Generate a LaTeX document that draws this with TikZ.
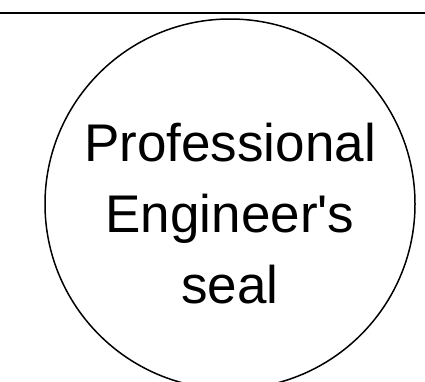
\documentclass[tikz,border=0pt]{standalone}
\usepackage{fontspec}
\newfontfamily\sealfont{Liberation Sans}
\usetikzlibrary{positioning}

\begin{document}
\begin{tikzpicture}[
x=1pt, y=-1pt,
rule/.style={draw, line width=2pt},
sealring/.style={draw, circle, line width=1.5pt, minimum size=370pt, inner sep=0pt},
sealtext/.style={align=center, font=\sealfont\fontsize{53}{71}\selectfont}
]

\useasboundingbox (0,0) rectangle (425,381);
\clip (0,0) rectangle (425,381);

\coordinate (rl) at (0,13);
\coordinate (rr) at (425,13);
\draw[rule] (rl) -- (rr);

\node[sealring] (ring) at (230,204) {};
\node[sealtext] (label) at (230,214) {Professional\\Engineer's\\seal};

\end{tikzpicture}
\end{document}
